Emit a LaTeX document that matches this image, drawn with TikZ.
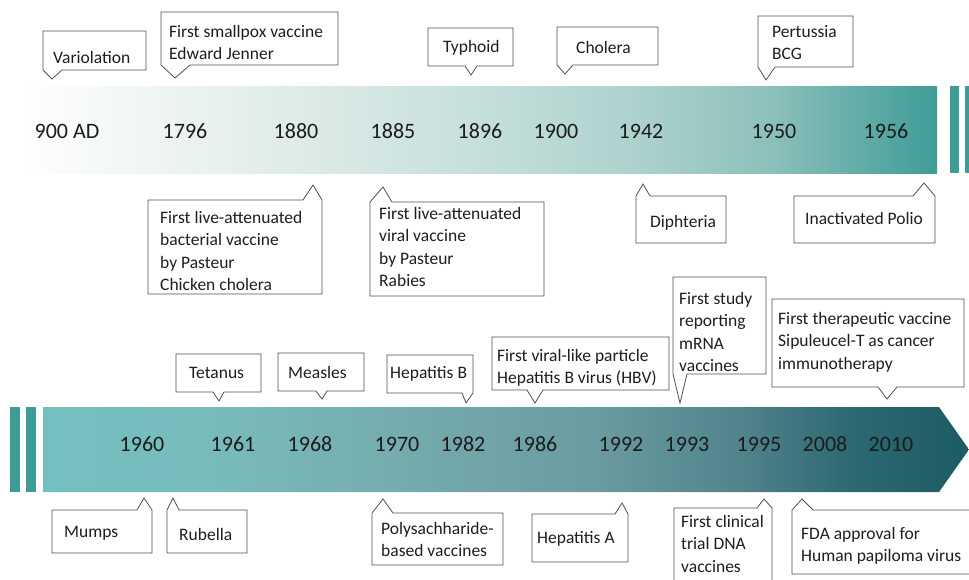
\documentclass[tikz,border=0pt]{standalone}
\usepackage{fontspec}
\setmainfont{Carlito}
\definecolor{boxline}{RGB}{80,80,80}
\definecolor{txt}{RGB}{30,30,30}
\definecolor{yrtxt}{RGB}{28,28,28}
\definecolor{barteal}{RGB}{62,156,150}
\definecolor{ta}{RGB}{255,255,255}
\definecolor{tb}{RGB}{245,249,248}
\definecolor{tc}{RGB}{222,235,232}
\definecolor{td}{RGB}{195,222,218}
\definecolor{te}{RGB}{172,209,204}
\definecolor{tf}{RGB}{140,192,187}
\definecolor{tg}{RGB}{62,156,150}
\definecolor{ba}{RGB}{116,192,192}
\definecolor{bb}{RGB}{120,188,188}
\definecolor{bc}{RGB}{118,172,174}
\definecolor{bd}{RGB}{105,155,160}
\definecolor{be}{RGB}{80,130,138}
\definecolor{bf}{RGB}{45,105,115}
\definecolor{bg}{RGB}{28,90,100}
\pgfdeclarehorizontalshading{topshade}{100bp}{color(0bp)=(ta); color(25bp)=(ta); color(29.5bp)=(tb); color(40.4bp)=(tc); color(51bp)=(td); color(59bp)=(te); color(66bp)=(tf); color(75bp)=(tg); color(100bp)=(tg)}
\pgfdeclarehorizontalshading{botshade}{100bp}{color(0bp)=(ba); color(25bp)=(ba); color(33.5bp)=(bb); color(44bp)=(bc); color(55bp)=(bd); color(63bp)=(be); color(68.5bp)=(bf); color(75bp)=(bg); color(100bp)=(bg)}
\newcommand\lblfnt{\fontsize{17.5}{22.5}\selectfont}
\newcommand\yrfnt{\fontsize{22}{26}\selectfont}
\tikzset{
  callout/.style={draw=boxline, line width=0.8pt, fill=white, line join=miter},
  lbl/.style={anchor=base west, inner sep=0pt, font=\lblfnt, text=txt, align=left},
  yr/.style={anchor=base, inner sep=0pt, font=\yrfnt, text=yrtxt},
  bar/.style={fill=barteal, draw=none}
}
\begin{document}
\begin{tikzpicture}[x=1pt,y=-1pt]
\useasboundingbox (0,0) rectangle (969,579);
% ---------- bands ----------
\path[shading=topshade] (17,86) rectangle (937,173);
\path[bar] (950,86) rectangle (959,173);
\path[bar] (965,86) rectangle (975,173);
\path[bar] (10,407) rectangle (20,492);
\path[bar] (26,407) rectangle (36,492);
\path[shading=botshade] (43,407) -- (939,407) -- (969,449.5) -- (939,492) -- (43,492) -- cycle;
% ---------- years ----------
\node[yr] (y900) at (67,138) {900 AD};
\node[yr] (y1796) at (185,138) {1796};
\node[yr] (y1880) at (296,138) {1880};
\node[yr] (y1885) at (393,138) {1885};
\node[yr] (y1896) at (480,138) {1896};
\node[yr] (y1900) at (556,138) {1900};
\node[yr] (y1942) at (641,138) {1942};
\node[yr] (y1950) at (774,138) {1950};
\node[yr] (y1956) at (886,138) {1956};
\node[yr] (y1960) at (142,451) {1960};
\node[yr] (y1961) at (233,451) {1961};
\node[yr] (y1968) at (310,451) {1968};
\node[yr] (y1970) at (397,451) {1970};
\node[yr] (y1982) at (463,451) {1982};
\node[yr] (y1986) at (535,451) {1986};
\node[yr] (y1992) at (621,451) {1992};
\node[yr] (y1993) at (687,451) {1993};
\node[yr] (y1995) at (759,451) {1995};
\node[yr] (y2008) at (825,451) {2008};
\node[yr] (y2010) at (891,451) {2010};
% ---------- callouts above top band ----------
\draw[callout] (43,31) -- (146,31) -- (146,70) -- (62,70) -- (52,79) -- (43,70) -- cycle;
\node[lbl] (variol) at (53,63) {Variolation};
\draw[callout] (161,12) -- (338,12) -- (338,65) -- (190,65) -- (175,78) -- (161,65) -- cycle;
\node[lbl] (jenner) at (169,59.5) {First smallpox vaccine\\Edward Jenner};
\draw[callout] (428,28) -- (513,28) -- (513,66) -- (477,66) -- (471,75) -- (465,66) -- (428,66) -- cycle;
\node[lbl] (typhoid) at (443,52) {Typhoid};
\draw[callout] (557,27) -- (658,27) -- (658,65) -- (573,65) -- (565,74) -- (557,65) -- cycle;
\node[lbl] (cholera) at (576,53) {Cholera};
\draw[callout] (758,16) -- (853,16) -- (853,67) -- (775,67) -- (766,80) -- (758,67) -- cycle;
\node[lbl] (pertussia) at (772,59.5) {Pertussia\\BCG};
% ---------- callouts below top band ----------
\draw[callout] (148,200) -- (303,200) -- (313,185) -- (322,200) -- (322,294) -- (148,294) -- cycle;
\node[lbl] (bacterial) at (160,290.5) {First live-attenuated\\bacterial vaccine\\by Pasteur\\Chicken cholera};
\draw[callout] (370,202) -- (383,187) -- (392,202) -- (544,202) -- (544,296) -- (370,296) -- cycle;
\node[lbl] (viral) at (379,286.5) {First live-attenuated\\viral vaccine\\by Pasteur\\Rabies};
\draw[callout] (636,196) -- (643,184) -- (650,196) -- (726,196) -- (726,243) -- (636,243) -- cycle;
\node[lbl] (diphteria) at (650,227) {Diphteria};
\draw[callout] (794,196) -- (913,196) -- (924,183) -- (935,196) -- (935,243) -- (794,243) -- cycle;
\node[lbl] (polio) at (805,224) {Inactivated Polio};
% ---------- callouts above bottom band ----------
\draw[callout] (176,354) -- (261,354) -- (261,392) -- (224,392) -- (219,401) -- (213,392) -- (176,392) -- cycle;
\node[lbl] (tetanus) at (189,378) {Tetanus};
\draw[callout] (278,353) -- (364,353) -- (364,391) -- (327,391) -- (322,399) -- (316,391) -- (278,391) -- cycle;
\node[lbl] (measles) at (288,378) {Measles};
\draw[callout] (387,355) -- (473,355) -- (473,393) -- (466,403) -- (462,393) -- (387,393) -- cycle;
\node[lbl] (hepb) at (390,378) {Hepatitis B};
\draw[callout] (492,337) -- (669,337) -- (669,390) -- (543,390) -- (535,403) -- (527,390) -- (492,390) -- cycle;
\node[lbl] (vlp) at (497,383.5) {First viral-like particle\\Hepatitis B virus (HBV)};
\draw[callout] (673,277) -- (766,277) -- (766,374) -- (687,374) -- (680,403) -- (673,374) -- cycle;
\node[lbl] (mrna) at (679,371.5) {First study\\reporting\\mRNA\\vaccines};
\draw[callout] (772,299) -- (964,299) -- (964,387) -- (897,387) -- (887,399) -- (878,387) -- (772,387) -- cycle;
\node[lbl] (therap) at (778,369) {First therapeutic vaccine\\Sipuleucel-T as cancer\\immunotherapy};
% ---------- callouts below bottom band ----------
\draw[callout] (52,510) -- (137,510) -- (144,498) -- (152,510) -- (152,553) -- (52,553) -- cycle;
\node[lbl] (mumps) at (64,537) {Mumps};
\draw[callout] (167,510) -- (173,498) -- (179,510) -- (247,510) -- (247,553) -- (167,553) -- cycle;
\node[lbl] (rubella) at (179,540) {Rubella};
\draw[callout] (372,513) -- (383,499) -- (393,513) -- (503,513) -- (503,565) -- (372,565) -- cycle;
\node[lbl] (polysac) at (381,556.5) {Polysachharide-\\based vaccines};
\draw[callout] (532,514) -- (615,514) -- (622,503) -- (628,514) -- (628,562) -- (532,562) -- cycle;
\node[lbl] (hepa) at (537,543) {Hepatitis A};
\draw[callout] (674,508) -- (757,508) -- (764,499) -- (772,508) -- (772,595) -- (674,595) -- cycle;
\node[lbl] (dna) at (681,572) {First clinical\\trial DNA\\vaccines};
\draw[callout] (792,510) -- (802,499) -- (813,510) -- (980,510) -- (980,574) -- (792,574) -- cycle;
\node[lbl] (fda) at (801,561.5) {FDA approval for\\Human papiloma virus};
\end{tikzpicture}
\end{document}
